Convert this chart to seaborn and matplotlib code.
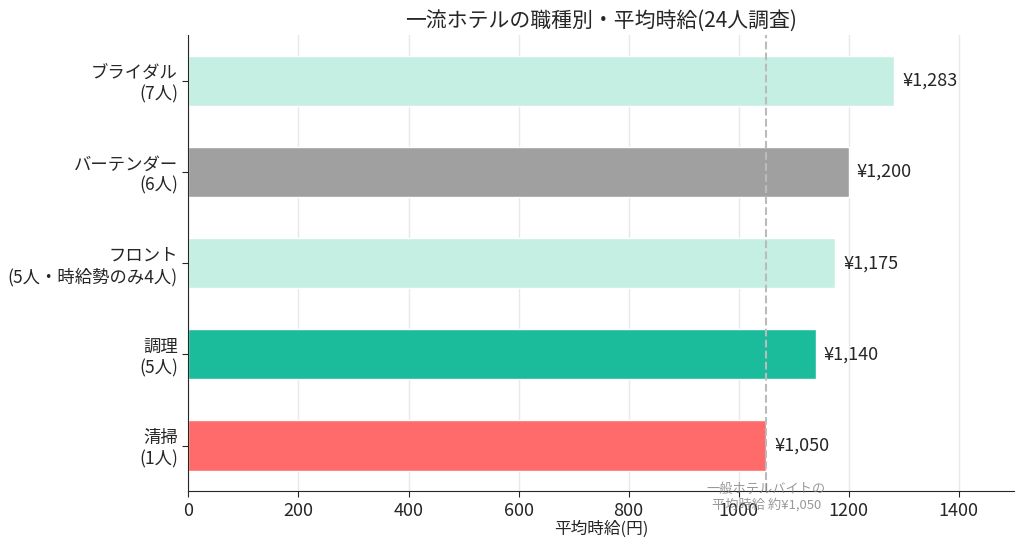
import pandas as pd
import seaborn as sns
import matplotlib.pyplot as plt

# データ
jobs = ['ブライダル\n(7人)', 'バーテンダー\n(6人)', 'フロント\n(5人・時給勢のみ4人)', '調理\n(5人)', '清掃\n(1人)']
wages = [1283, 1200, 1175, 1140, 1050]
colors = ['#c6efe4', '#a0a0a0', '#c6efe4', '#1abc9c', '#ff6b6b']
avg_wage = 1050

df = pd.DataFrame({'job': jobs, 'wage': wages})

sns.set_style('white')
plt.rcParams['font.family'] = ['Noto Sans CJK JP', 'DejaVu Sans']

fig, ax = plt.subplots(figsize=(10.24, 5.5), dpi=100)
sns.barplot(data=df, y='job', x='wage', hue='job', palette=colors, legend=False,
            width=0.55, saturation=1, ax=ax, zorder=2)

# 値ラベル
for i, v in enumerate(wages):
    ax.text(v + 15, i, f'¥{v:,}', va='center', ha='left', fontsize=13)

# 一般ホテルの平均
ax.axvline(avg_wage, color='#bbbbbb', linestyle='--', linewidth=1.5, zorder=3)
ax.text(avg_wage, 4.57, '一般ホテルバイトの\n平均時給 約¥1,050', ha='center', va='center',
        fontsize=9.5, color='gray', alpha=0.8, zorder=4)

ax.set_xlim(0, 1500)
ax.set_xticks(range(0, 1600, 200)[:8])
ax.grid(axis='x', color='#e8e8e8', linewidth=1, zorder=0)
ax.set_axisbelow(True)
sns.despine(ax=ax)
ax.tick_params(axis='x', labelsize=13, length=4, bottom=True)
ax.tick_params(axis='y', labelsize=12.5, length=4, left=True)
ax.set_ylabel('')
ax.set_xlabel('平均時給(円)', fontsize=12, labelpad=1)
ax.set_title('一流ホテルの職種別・平均時給(24人調査)', fontsize=15, pad=6)

plt.subplots_adjust(left=0.184, right=0.99, top=0.936, bottom=0.107)
plt.savefig('out.png', dpi=100)
